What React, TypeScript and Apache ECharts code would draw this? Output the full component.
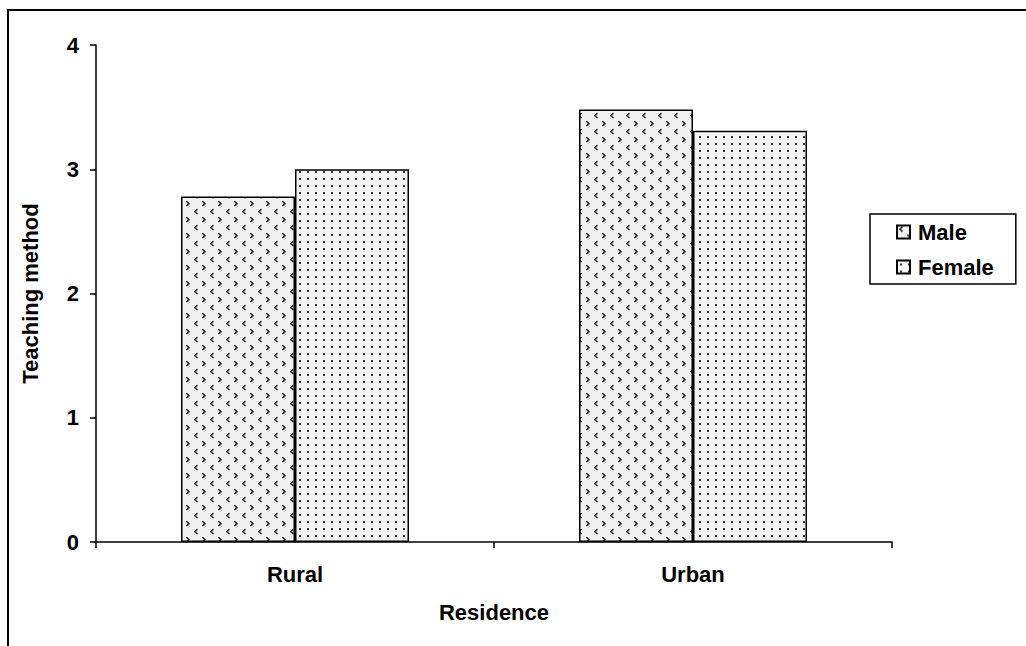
import React, { useEffect, useRef } from "react";
import * as echarts from "echarts";

const categories = ["Rural", "Urban"];
const maleValues = [2.78, 3.48];
const femaleValues = [3.0, 3.31];
const yTicks = [0, 1, 2, 3, 4];
const seriesNames = ["Male", "Female"];

function makeMalePattern(): HTMLCanvasElement {
  const c = document.createElement("canvas");
  c.width = 16;
  c.height = 16;
  const ctx = c.getContext("2d")!;
  ctx.fillStyle = "#f1f1f1";
  ctx.fillRect(0, 0, 16, 16);
  ctx.fillStyle = "#222";
  const lt = [[2, 0], [1, 1], [0, 2], [1, 3], [2, 4]];
  lt.forEach(([x, y]) => ctx.fillRect(2 + x, 1 + y, 1.8, 1.3));
  const gt = [[0, 0], [1, 1], [2, 2], [1, 3], [0, 4]];
  gt.forEach(([x, y]) => ctx.fillRect(10 + x, 9 + y, 1.8, 1.3));
  return c;
}

function makeFemalePattern(): HTMLCanvasElement {
  const c = document.createElement("canvas");
  c.width = 8;
  c.height = 7;
  const ctx = c.getContext("2d")!;
  ctx.fillStyle = "#f4f4f4";
  ctx.fillRect(0, 0, 8, 7);
  ctx.fillStyle = "#333";
  ctx.fillRect(3, 3, 2, 2);
  return c;
}

export default function App() {
  const ref = useRef<HTMLDivElement>(null);
  useEffect(() => {
    if (!ref.current) return;
    const chart = echarts.init(ref.current, null, { renderer: "svg" });
    const male = makeMalePattern();
    const female = makeFemalePattern();
    const font = "'Liberation Sans', Arial, sans-serif";
    const txt = { fontFamily: font, fontWeight: "bold", fontSize: 22, color: "#000" };
    chart.setOption({
      animation: false,
      backgroundColor: "#fff",
      graphic: [
        {
          type: "rect",
          shape: { x: 8, y: 10, width: 1100, height: 800 },
          style: { fill: "none", stroke: "#000", lineWidth: 2 },
          silent: true,
        },
      ],
      grid: { left: 96, right: 134, top: 45, bottom: 104 },
      legend: {
        orient: "vertical",
        left: 870,
        top: 214,
        data: seriesNames,
        itemWidth: 13,
        itemHeight: 13,
        itemGap: 13,
        padding: [7, 22, 6, 26],
        borderColor: "#000",
        borderWidth: 1.5,
        icon: "rect",
        textStyle: { ...txt, padding: [0, 0, 0, 3] },
      },
      xAxis: {
        type: "category",
        data: categories,
        name: "Residence",
        nameLocation: "middle",
        nameGap: 59,
        nameTextStyle: txt,
        axisLine: { lineStyle: { color: "#000", width: 1.5 } },
        axisTick: { show: true, length: 6, lineStyle: { color: "#000", width: 1.5 } },
        axisLabel: { ...txt, margin: 21 },
      },
      yAxis: {
        type: "value",
        min: yTicks[0],
        max: yTicks[yTicks.length - 1],
        interval: 1,
        name: "Teaching method",
        nameLocation: "middle",
        nameGap: 55,
        nameTextStyle: txt,
        axisLine: { show: true, lineStyle: { color: "#000", width: 1.5 } },
        axisTick: { show: true, length: 6, lineStyle: { color: "#000", width: 1.5 } },
        splitLine: { show: false },
        axisLabel: { ...txt, margin: 17 },
      },
      series: [
        {
          name: seriesNames[0],
          type: "bar",
          data: maleValues,
          barWidth: 114,
          barGap: "0%",
          itemStyle: {
            color: { image: male, repeat: "repeat", imageWidth: 16, imageHeight: 16 },
            borderColor: "#000",
            borderWidth: 1.5,
          },
        },
        {
          name: seriesNames[1],
          type: "bar",
          data: femaleValues,
          barWidth: 114,
          barGap: "0%",
          itemStyle: {
            color: { image: female, repeat: "repeat", imageWidth: 8, imageHeight: 7 },
            borderColor: "#000",
            borderWidth: 1.5,
          },
        },
      ],
    });
    return () => chart.dispose();
  }, []);
  return (
    <div
      ref={ref}
      style={{ position: "fixed", left: 0, top: 0, width: 1026, height: 646 }}
    />
  );
}
